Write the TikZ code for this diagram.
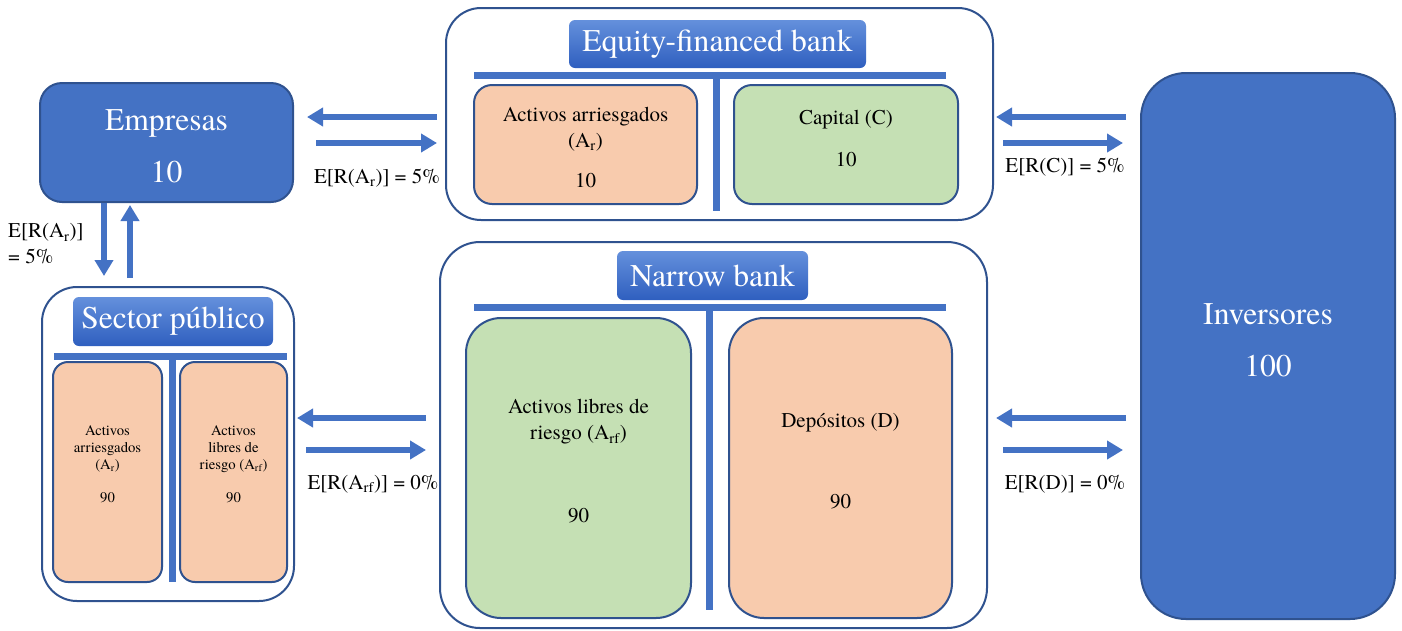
\documentclass[tikz,border=0pt]{standalone}
\usepackage{fontspec}
\setmainfont{texgyretermes-regular.otf}
\usetikzlibrary{arrows.meta}

\definecolor{fillblue}{HTML}{4472C4}
\definecolor{edgeblue}{HTML}{2F528F}
\definecolor{peach}{HTML}{F8CBAD}
\definecolor{sage}{HTML}{C5E0B4}
\definecolor{hdrtop}{HTML}{6490DC}
\definecolor{hdrbot}{HTML}{2F5FBF}

\newcommand\titlesize{\fontsize{31.6}{38}\selectfont}
\newcommand\boxsize{\fontsize{21}{26}\selectfont}
\newcommand\tinybox{\fontsize{14.7}{17}\selectfont}

\tikzset{
  frame/.style={draw=edgeblue, line width=2pt, fill=white, rounded corners=#1, inner sep=0pt},
  agent/.style={draw=edgeblue, line width=2pt, fill=fillblue, rounded corners=#1, inner sep=0pt},
  agenttext/.style={text=white, font=\titlesize, align=center, inner sep=0pt},
  header/.style={top color=hdrtop, bottom color=hdrbot, rounded corners=6pt,
    text=white, font=\titlesize, inner sep=0pt},
  account/.style={draw=edgeblue, line width=2pt, rounded corners=#1, inner sep=0pt},
  boxtext/.style={font=\boxsize, align=center, inner sep=0pt},
  tinytext/.style={font=\tinybox, align=center, inner sep=0pt},
  rate/.style={font=\boxsize, inner sep=0pt},
  tbar/.style={fillblue, line width=7pt},
  flow/.style={fillblue, line width=6pt, -{Triangle[width=18pt,length=16pt]}}
}

\begin{document}
\begin{tikzpicture}[x=1pt,y=-1pt]
\useasboundingbox (0,0) rectangle (1402,630);

% frames of the two banks and the public sector
\node[frame=35pt, minimum width=547pt, minimum height=212pt] (eqbank) at (719.5,114) {};
\node[frame=40pt, minimum width=547pt, minimum height=386pt] (narrow) at (713.5,435) {};
\node[frame=35pt, minimum width=252pt, minimum height=314pt] (sector) at (168,444) {};

% firms and investors
\node[agent=22pt, minimum width=253pt, minimum height=119pt] (empresas) at (166.5,142.5) {};
\node[agent=45pt, minimum width=254pt, minimum height=546pt] (inversores) at (1268,346) {};
\node[agenttext] (empresas-t) at (166.5,146) {Empresas\\[14pt]10};
\node[agenttext] (inversores-t) at (1268,340) {Inversores\\[14pt]100};

% titles
\node[header, minimum width=297pt, minimum height=48pt] (eqhead) at (717.5,44) {Equity-financed bank};
\node[header, minimum width=191pt, minimum height=49pt] (nbhead) at (712.5,275.5) {Narrow bank};
\node[header, minimum width=200pt, minimum height=49pt] (sphead) at (173,321.5) {Sector público};

% T accounts
\draw[tbar] (474,75.5) -- (946,75.5) (716.5,79) -- (716.5,211);
\draw[tbar] (474,307.5) -- (946,307.5) (709.5,311) -- (709.5,610);
\draw[tbar] (54,356.5) -- (287,356.5) (172.5,360) -- (172.5,582);

\node[account=18pt, fill=peach, minimum width=223pt, minimum height=119pt] (eqar) at (585.5,144.5) {};
\node[account=18pt, fill=sage, minimum width=224pt, minimum height=119pt] (eqc) at (846,144.5) {};
\node[account=35pt, fill=sage, minimum width=225pt, minimum height=300pt] (nbarf) at (578.5,468) {};
\node[account=35pt, fill=peach, minimum width=223pt, minimum height=300pt] (nbd) at (840.5,468) {};
\node[account=15pt, fill=peach, minimum width=109pt, minimum height=220pt] (spar) at (107.5,472) {};
\node[account=15pt, fill=peach, minimum width=107pt, minimum height=220pt] (sparf) at (233.5,472) {};

\node[boxtext] (eqar-t) at (585.5,147) {Activos arriesgados\\(A\textsubscript{r})\\[14pt]10};
\node[boxtext] (eqc-t) at (846,138) {Capital (C)\\[16pt]10};
\node[boxtext] (nbarf-t) at (578.5,461.5) {Activos libres de\\riesgo (A\textsubscript{rf})\\[57pt]90};
\node[boxtext] (nbd-t) at (840.5,461.5) {Depósitos (D)\\[55pt]90};
\node[tinytext] (spar-t) at (107.5,464.5) {Activos\\arriesgados\\(A\textsubscript{r})\\[16pt]90};
\node[tinytext] (sparf-t) at (233.5,464.5) {Activos\\libres de\\riesgo (A\textsubscript{rf})\\[16pt]90};

% flows
\coordinate (upper-l) at (0,117);
\coordinate (upper-r) at (0,143);
\coordinate (lower-l) at (0,418);
\coordinate (lower-r) at (0,450);
\coordinate (down) at (104,0);
\coordinate (up) at (130,0);

\draw[flow, shorten <=8pt, shorten >=13pt] (eqbank.west |- upper-l) -- (empresas.east |- upper-l);
\draw[flow, shorten <=22pt, shorten >=8pt] (empresas.east |- upper-r) -- (eqbank.west |- upper-r);
\draw[flow, shorten <=14pt, shorten >=2pt] (inversores.west |- upper-l) -- (eqbank.east |- upper-l);
\draw[flow, shorten <=9pt, shorten >=17pt] (eqbank.east |- upper-r) -- (inversores.west |- upper-r);
\draw[flow, shorten <=13pt, shorten >=2pt] (narrow.west |- lower-l) -- (sector.east |- lower-l);
\draw[flow, shorten <=11pt, shorten >=13pt] (sector.east |- lower-r) -- (narrow.west |- lower-r);
\draw[flow, shorten <=14pt, shorten >=8pt] (inversores.west |- lower-l) -- (narrow.east |- lower-l);
\draw[flow, shorten <=15pt, shorten >=17pt] (narrow.east |- lower-r) -- (inversores.west |- lower-r);
\draw[flow, shorten >=10pt] (empresas.south -| down) -- (sector.north -| down);
\draw[flow, shorten <=8pt, shorten >=2pt] (sector.north -| up) -- (empresas.south -| up);

% expected returns
\node[rate] (rate-ar) at (377,178) {E[R(A\textsubscript{r})] = 5\%};
\node[rate] (rate-c) at (1065,167) {E[R(C)] = 5\%};
\node[rate] (rate-arf) at (373,484) {E[R(A\textsubscript{rf})] = 0\%};
\node[rate] (rate-d) at (1065,484) {E[R(D)] = 0\%};
\node[rate, anchor=west, align=left] (rate-emp) at (8,244) {E[R(A\textsubscript{r})]\\= 5\%};
\end{tikzpicture}
\end{document}
